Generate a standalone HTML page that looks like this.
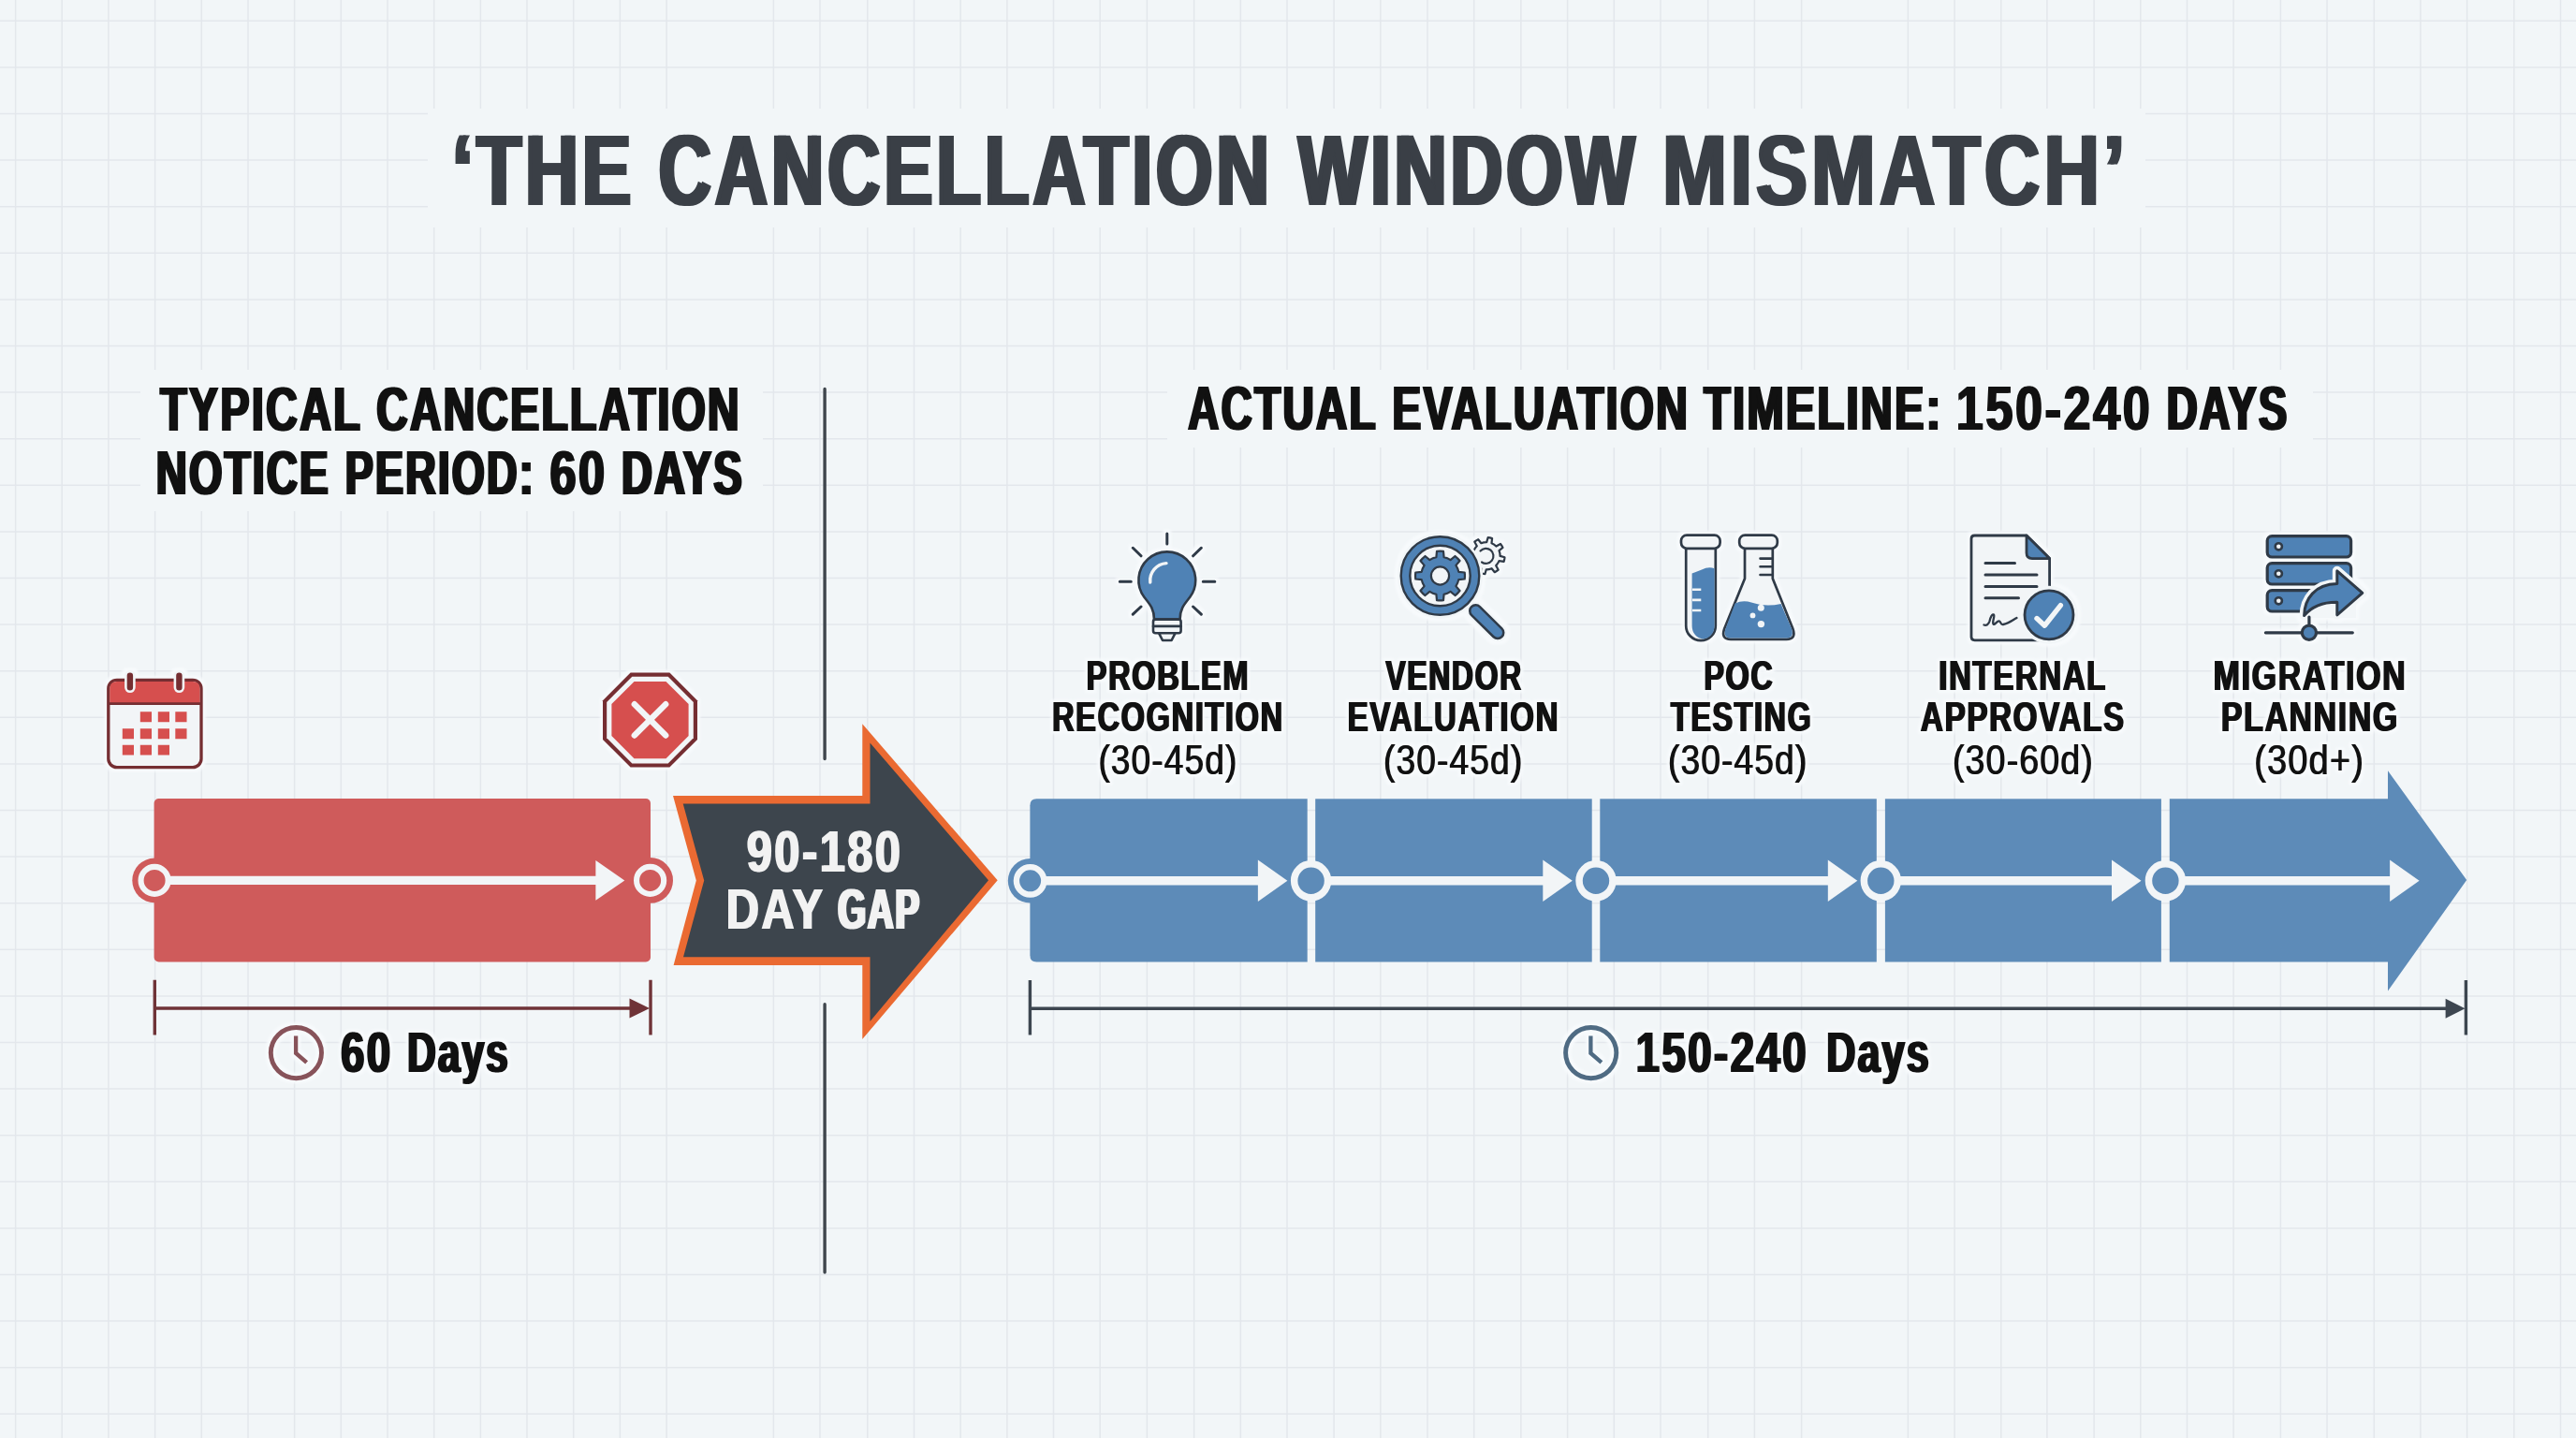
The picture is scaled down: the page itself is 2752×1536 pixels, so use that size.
<!DOCTYPE html>
<html><head><meta charset="utf-8"><title>The Cancellation Window Mismatch</title>
<style>html,body{margin:0;padding:0;background:#f2f6f8;overflow:hidden}svg{display:block}text{font-family:"Liberation Sans",sans-serif;white-space:pre}</style></head><body>
<svg width="2752" height="1536" viewBox="0 0 2752 1536">
<defs><filter id="halo" x="-5%" y="-5%" width="110%" height="110%" color-interpolation-filters="sRGB"><feMorphology in="SourceAlpha" operator="dilate" radius="2.6" result="d"/><feGaussianBlur in="d" stdDeviation="1.6" result="b"/><feFlood flood-color="#f7fafc"/><feComposite in2="b" operator="in" result="h"/><feMerge><feMergeNode in="h"/><feMergeNode in="SourceGraphic"/></feMerge></filter></defs>
<rect width="2752" height="1536" fill="#f2f6f8"/>
<path d="M16.6 0V1536M66.2 0V1536M115.9 0V1536M165.6 0V1536M215.3 0V1536M265.0 0V1536M314.6 0V1536M364.3 0V1536M414.0 0V1536M463.7 0V1536M513.4 0V1536M563.0 0V1536M612.7 0V1536M662.4 0V1536M712.1 0V1536M826.4 0V1536M876.0 0V1536M926.8 0V1536M976.5 0V1536M1026.2 0V1536M1075.9 0V1536M1125.5 0V1536M1175.2 0V1536M1225.4 0V1536M1275.6 0V1536M1325.3 0V1536M1375.0 0V1536M1425.1 0V1536M1474.8 0V1536M1525.0 0V1536M1574.7 0V1536M1624.9 0V1536M1674.6 0V1536M1724.3 0V1536M1774.0 0V1536M1824.7 0V1536M1874.4 0V1536M1924.6 0V1536M2038.4 0V1536M2088.1 0V1536M2137.8 0V1536M2186.9 0V1536M2237.1 0V1536M2286.8 0V1536M2336.5 0V1536M2386.1 0V1536M2436.4 0V1536M2486.0 0V1536M2536.3 0V1536M2585.9 0V1536M2635.6 0V1536M2685.8 0V1536M2735.5 0V1536M0 22.3H2752M0 71.9H2752M0 121.5H2752M0 171.1H2752M0 220.7H2752M0 270.3H2752M0 319.9H2752M0 369.5H2752M0 419.1H2752M0 468.7H2752M0 518.3H2752M0 567.9H2752M0 617.5H2752M0 667.1H2752M0 716.7H2752M0 766.3H2752M0 815.9H2752M0 865.5H2752M0 915.1H2752M0 964.7H2752M0 1014.3H2752M0 1063.9H2752M0 1113.5H2752M0 1163.1H2752M0 1212.7H2752M0 1262.3H2752M0 1311.9H2752M0 1361.5H2752M0 1411.1H2752M0 1460.7H2752M0 1510.3H2752" stroke="#e3e7ec" stroke-width="1.5" fill="none"/>
<rect x="457" y="116" width="1835" height="127" fill="#f2f6f8"/>
<rect x="150" y="395" width="665" height="151" fill="#f2f6f8"/>
<rect x="1247" y="395" width="1224" height="83" fill="#f2f6f8"/>
<path d="M881.1 415.4V810.5M881.1 1072.8V1359" stroke="#3f464d" stroke-width="3.4" stroke-linecap="round" fill="none"/>
<circle cx="165.1" cy="940.4" r="23.8" fill="#cf5b5b"/><circle cx="694.6" cy="940.4" r="24.4" fill="#cf5b5b"/>
<rect x="164.6" y="853" width="530.4" height="174.4" rx="5" fill="#cf5b5b"/>
<path d="M165.1 940.4H640" stroke="#f2f5f7" stroke-width="9.4" fill="none"/>
<path d="M636.4 919.0L667.3 940.4L636.4 961.8Z" fill="#f2f5f7"/>
<circle cx="165.1" cy="940.4" r="14.55" fill="#cf5b5b" stroke="#f2f5f7" stroke-width="6.1"/>
<circle cx="694.6" cy="940.4" r="14.55" fill="#cf5b5b" stroke="#f2f5f7" stroke-width="6.1"/>
<path d="M165.3 1046.8V1105.6M695 1046.8V1105.6M165.3 1077H676" stroke="#6f3337" stroke-width="3.4" fill="none"/>
<path d="M672.5 1066.5L694 1077L672.5 1087.5Z" fill="#6f3337"/>
<polygon points="719,849.9 921.3,849.9 921.3,773.3 1065.7,940.3 921.3,1110 921.3,1031 719.6,1031 743.8,940.4" fill="#ea6a32"/>
<polygon points="729.7,858.6 929.5,858.6 929.5,793.6 1056,940.3 929.5,1091 929.5,1022.2 730,1022.2 752.2,940.4" fill="#3d454d"/>
<circle cx="1100.6" cy="940.8" r="23.8" fill="#5d8bb8"/>
<path d="M1107.4 853.3H1396.7V1027.5H1107.4Q1100.4 1027.5 1100.4 1020.5V860.3Q1100.4 853.3 1107.4 853.3Z" fill="#5d8bb8"/>
<rect x="1405.2" y="853.3" width="295.5" height="174.2" fill="#5d8bb8"/>
<rect x="1709.3" y="853.3" width="295.5" height="174.2" fill="#5d8bb8"/>
<rect x="2013.9" y="853.3" width="295.0" height="174.2" fill="#5d8bb8"/>
<path d="M2317.8 853.3H2551V823.3L2635.2 940L2551 1058.5V1027.5H2317.8Z" fill="#5d8bb8"/>
<path d="M1100.6 940.8H1348.4" stroke="#f2f5f7" stroke-width="9.6" fill="none"/>
<path d="M1343.9 918.5999999999999L1375.4 940.8L1343.9 963.0Z" fill="#f2f5f7"/>
<path d="M1400.6 940.8H1652.8" stroke="#f2f5f7" stroke-width="9.6" fill="none"/>
<path d="M1648.3 918.5999999999999L1679.8 940.8L1648.3 963.0Z" fill="#f2f5f7"/>
<path d="M1705 940.8H1957.3" stroke="#f2f5f7" stroke-width="9.6" fill="none"/>
<path d="M1952.8 918.5999999999999L1984.3 940.8L1952.8 963.0Z" fill="#f2f5f7"/>
<path d="M2009.3 940.8H2260.5" stroke="#f2f5f7" stroke-width="9.6" fill="none"/>
<path d="M2256.0 918.5999999999999L2287.5 940.8L2256.0 963.0Z" fill="#f2f5f7"/>
<path d="M2313.4 940.8H2557.6" stroke="#f2f5f7" stroke-width="9.6" fill="none"/>
<path d="M2553.1 918.5999999999999L2584.6 940.8L2553.1 963.0Z" fill="#f2f5f7"/>
<circle cx="1100.6" cy="940.8" r="14.7" fill="#5d8bb8" stroke="#f2f5f7" stroke-width="6.4"/>
<circle cx="1400.6" cy="940.8" r="17.95" fill="#5d8bb8" stroke="#f2f5f7" stroke-width="7.5"/>
<circle cx="1705" cy="940.8" r="17.95" fill="#5d8bb8" stroke="#f2f5f7" stroke-width="7.5"/>
<circle cx="2009.3" cy="940.8" r="17.95" fill="#5d8bb8" stroke="#f2f5f7" stroke-width="7.5"/>
<circle cx="2313.4" cy="940.8" r="17.95" fill="#5d8bb8" stroke="#f2f5f7" stroke-width="7.5"/>
<path d="M1100.4 1047V1105.4M2634.4 1047V1105.4M1100.4 1077.2H2616" stroke="#3d4650" stroke-width="3.4" fill="none"/>
<path d="M2612.6 1066.7L2633.5 1077.2L2612.6 1087.7Z" fill="#3d4650"/>
<g filter="url(#halo)">
<g fill="none" stroke="#87535a" stroke-width="4.9" stroke-linejoin="miter"><circle cx="316.4" cy="1124.6" r="27.1"/><path d="M316.09999999999997 1106.6V1124.8999999999999L327.59999999999997 1134.8999999999999" stroke-width="4.3"/></g>
<g fill="none" stroke="#4f6b83" stroke-width="4.9" stroke-linejoin="miter"><circle cx="1699.7" cy="1124.6" r="27.1"/><path d="M1699.4 1106.6V1124.8999999999999L1710.9 1134.8999999999999" stroke-width="4.3"/></g>
<g>
<rect x="115.8" y="726.4" width="99.2" height="93.2" rx="9" fill="#f2f5f7" stroke="#752e32" stroke-width="3.3"/>
<path d="M117.3 751.6V735.4Q117.3 727.9 124.8 727.9H206Q213.5 727.9 213.5 735.4V751.6Z" fill="#d64f4e"/>
<path d="M116 751.6H215" stroke="#752e32" stroke-width="2.6"/>
<rect x="134.4" y="717.2" width="9" height="21.6" rx="4.5" fill="#752e32" stroke="#f2f5f7" stroke-width="2.6"/>
<rect x="186.9" y="717.2" width="9" height="21.6" rx="4.5" fill="#752e32" stroke="#f2f5f7" stroke-width="2.6"/>
<path d="M149.8 760.3h12.2v10.9h-12.2zM168.8 760.3h12.2v10.9h-12.2zM187.3 760.3h12.2v10.9h-12.2zM130.8 778.3h12.2v10.9h-12.2zM149.8 778.3h12.2v10.9h-12.2zM168.8 778.3h12.2v10.9h-12.2zM187.3 778.3h12.2v10.9h-12.2zM130.8 795.7h12.2v10.9h-12.2zM149.8 795.7h12.2v10.9h-12.2zM168.8 795.7h12.2v10.9h-12.2z" fill="#d64f4e"/>
</g>
<polygon points="673.6,718.6 715.4,718.6 745.0,748.2 745.0,790.0 715.4,819.6 673.6,819.6 644.0,790.0 644.0,748.2" fill="#752e32"/>
<polygon points="675.3,722.8 713.7,722.8 740.8,749.9 740.8,788.3 713.7,815.4 675.3,815.4 648.2,788.3 648.2,749.9" fill="#f2f5f7"/>
<polygon points="677.5,728.0 711.5,728.0 735.6,752.1 735.6,786.1 711.5,810.2 677.5,810.2 653.4,786.1 653.4,752.1" fill="#d64f4e"/>
<path d="M677.8 752.2L711.2 785.6M711.2 752.2L677.8 785.6" stroke="#f2f5f7" stroke-width="6.4" stroke-linecap="round"/>
<g stroke="#2f3a47" stroke-width="2.6" stroke-linecap="round" stroke-linejoin="round" fill="none">
<path d="M1246.8 570V581M1196.3 621.2H1208.3M1285.3 621.2H1297.8M1210.3 585.3L1219 593.8M1283.3 585.3L1274.6 593.8M1210.3 656.2L1219 648M1283.3 656.2L1274.6 648" stroke-width="3"/>
<path d="M1233 661.5C1233 650 1228 645 1222.5 638A30.4 30.4 0 1 1 1271.1 638C1265.6 645 1260.6 650 1260.6 661.5Z" fill="#4f82b5"/>
<path d="M1228.8 622A18.5 18.5 0 0 1 1246 601.6" stroke="#f2f5f7" stroke-width="3.4"/>
<rect x="1232" y="661.6" width="29.6" height="14.6" rx="2.5" fill="#f2f5f7"/>
<path d="M1232 668.9H1261.6" />
<path d="M1238 676.2L1242 684H1251.6L1255.6 676.2Z" fill="#f2f5f7"/>
</g>
<g stroke="#2f3a47" stroke-width="2.4" stroke-linejoin="round" stroke-linecap="round" fill="none">
<path d="M1602.6 593.9L1607.5 595.3A19.6 19.6 0 0 1 1606.6 599.8L1601.5 599.2A14.6 14.6 0 0 1 1598.2 604.1L1598.2 604.1L1600.7 608.7A19.6 19.6 0 0 1 1596.8 611.2L1593.6 607.2A14.6 14.6 0 0 1 1587.8 608.3L1587.8 608.3L1586.4 613.2A19.6 19.6 0 0 1 1581.9 612.3L1582.5 607.2A14.6 14.6 0 0 1 1577.6 603.9L1577.6 603.9L1573.0 606.4A19.6 19.6 0 0 1 1570.5 602.5L1574.5 599.3A14.6 14.6 0 0 1 1573.4 593.5L1573.4 593.5L1568.5 592.1A19.6 19.6 0 0 1 1569.4 587.6L1574.5 588.2A14.6 14.6 0 0 1 1577.8 583.3L1577.8 583.3L1575.3 578.7A19.6 19.6 0 0 1 1579.2 576.2L1582.4 580.2A14.6 14.6 0 0 1 1588.2 579.1L1588.2 579.1L1589.6 574.2A19.6 19.6 0 0 1 1594.1 575.1L1593.5 580.2A14.6 14.6 0 0 1 1598.4 583.5L1598.4 583.5L1603.0 581.0A19.6 19.6 0 0 1 1605.5 584.9L1601.5 588.1A14.6 14.6 0 0 1 1602.6 593.9Z" fill="#f2f5f7" stroke-width="2.2"/>
<path d="M1581.5 588.5A8 8 0 1 1 1583 600.5" stroke-width="2.2"/>
<circle cx="1538.5" cy="615" r="45.6" fill="#f2f6f8" stroke="none"/>
<path d="M1576.5 652.6L1600 675.8" stroke="#f2f6f8" stroke-width="19.5"/>
<path d="M1576.5 652.6L1600 675.8" stroke="#2f3a47" stroke-width="15"/>
<path d="M1576.5 652.6L1600 675.8" stroke="#4f82b5" stroke-width="10"/>
<circle cx="1538.5" cy="615" r="41.8" fill="#4f82b5"/>
<circle cx="1538.5" cy="615" r="32.2" fill="#f2f5f7"/>
<path d="M1558.3 610.9L1564.7 611.5A26.4 26.4 0 0 1 1564.7 618.5L1558.3 619.1A20.2 20.2 0 0 1 1555.4 626.1L1555.4 626.1L1559.5 631.0A26.4 26.4 0 0 1 1554.5 636.0L1549.6 631.9A20.2 20.2 0 0 1 1542.6 634.8L1542.6 634.8L1542.0 641.2A26.4 26.4 0 0 1 1535.0 641.2L1534.4 634.8A20.2 20.2 0 0 1 1527.4 631.9L1527.4 631.9L1522.5 636.0A26.4 26.4 0 0 1 1517.5 631.0L1521.6 626.1A20.2 20.2 0 0 1 1518.7 619.1L1518.7 619.1L1512.3 618.5A26.4 26.4 0 0 1 1512.3 611.5L1518.7 610.9A20.2 20.2 0 0 1 1521.6 603.9L1521.6 603.9L1517.5 599.0A26.4 26.4 0 0 1 1522.5 594.0L1527.4 598.1A20.2 20.2 0 0 1 1534.4 595.2L1534.4 595.2L1535.0 588.8A26.4 26.4 0 0 1 1542.0 588.8L1542.6 595.2A20.2 20.2 0 0 1 1549.6 598.1L1549.6 598.1L1554.5 594.0A26.4 26.4 0 0 1 1559.5 599.0L1555.4 603.9A20.2 20.2 0 0 1 1558.3 610.9Z" fill="#4f82b5" stroke-width="2.2"/>
<circle cx="1538.5" cy="615" r="9.6" fill="#f2f5f7" stroke-width="2.2"/>
</g>
<g stroke="#2f3a47" stroke-width="2.7" stroke-linejoin="round" stroke-linecap="round" fill="none">
<path d="M1801.2 584V668.4A15.8 15.8 0 0 0 1832.8 668.4V584Z" fill="#f2f5f7"/>
<path d="M1807.6 612.5Q1813 610.5 1818 608.5Q1825 605 1831.6 607.2V668.4A12 14 0 0 1 1807.6 668.4Z" fill="#4f82b5" stroke="none"/>
<path d="M1808 629.8H1817.3M1808 640.9H1817.3M1808 652H1817.3" stroke="#f2f5f7" stroke-width="2.6" stroke-linecap="butt"/>
<rect x="1796" y="571.6" width="41.6" height="14.2" rx="6" fill="#f2f5f7"/>
<path d="M1864 584V618L1842.2 671.5Q1838.2 682.8 1849 682.8H1908.5Q1919.3 682.8 1915.3 671.5L1893.8 618V584Z" fill="#f2f5f7"/>
<path d="M1853.6 644.5Q1862 640.5 1871 643.5Q1886 648.8 1902.6 645L1914.2 672Q1917 681.6 1908 681.6H1849.5Q1840.5 681.6 1843.3 672Z" fill="#4f82b5" stroke="none"/>
<g fill="#f2f5f7" stroke="none"><circle cx="1881.3" cy="649.2" r="3.5"/><circle cx="1872.5" cy="657.4" r="2.9"/><circle cx="1881.4" cy="666.6" r="3.7"/></g>
<path d="M1880.5 596.6H1892.5M1880.5 605.3H1892.5M1880.5 614H1892.5" stroke-width="2.6"/>
<rect x="1858.2" y="571.6" width="40.6" height="14.2" rx="6" fill="#f2f5f7"/>
</g>
<g stroke="#2f3a47" stroke-width="2.8" stroke-linejoin="round" stroke-linecap="round" fill="none">
<path d="M2106 575.5Q2106 572 2109.5 572H2165L2189.6 596.6V680.3Q2189.6 683.8 2186 683.8H2109.5Q2106 683.8 2106 680.3Z" fill="#f2f5f7"/>
<path d="M2165 572V590.6Q2165 596.6 2171 596.6H2189.6Z" fill="#4f82b5"/>
<path d="M2121 601.5H2152.5M2121 614H2176M2121 626.4H2176M2121 638.8H2156.5" stroke-width="3"/>
<path d="M2119.5 667.5C2122 668.5 2124.5 667 2125.5 663.5C2126.5 659 2128.5 655.5 2130 656.5C2131.5 658 2128 664 2129.5 666.5C2131 668.5 2133.5 662.5 2136 663.5C2138 664.5 2137 667.5 2140 667C2146 666 2150 662.5 2154.5 660" stroke-width="2.3"/>
<circle cx="2189" cy="656.8" r="31" fill="#f2f6f8" stroke="none"/>
<circle cx="2189" cy="656.8" r="26" fill="#4f82b5"/>
<path d="M2176 660.5L2184.3 668.2L2201.4 646.6" stroke="#f2f5f7" stroke-width="5.4"/>
</g>
<g stroke="#2f3a47" stroke-width="3.2" stroke-linejoin="round" stroke-linecap="round" fill="none">
<rect x="2422.2" y="572.6" width="89.4" height="22.4" rx="5" fill="#4f82b5"/>
<circle cx="2434.3" cy="583.8000000000001" r="3.6" fill="#f2f5f7" stroke-width="2.6"/>
<rect x="2422.2" y="601.6" width="89.4" height="22.4" rx="5" fill="#4f82b5"/>
<circle cx="2434.3" cy="612.8000000000001" r="3.6" fill="#f2f5f7" stroke-width="2.6"/>
<rect x="2422.2" y="630.6" width="89.4" height="22.4" rx="5" fill="#4f82b5"/>
<circle cx="2434.3" cy="641.8000000000001" r="3.6" fill="#f2f5f7" stroke-width="2.6"/>
<path d="M2461 660L2463 648L2478 640H2517V660Z" fill="#f2f6f8" stroke="none"/>
<path d="M2461.6 657.5C2461.8 640 2473 624 2496.8 623.6V609.8L2523.8 633.3L2496.8 656.8V643.2C2481 643 2469.5 648 2461.6 657.5Z" stroke="#f2f6f8" stroke-width="10" fill="#f2f6f8"/>
<path d="M2461.6 657.5C2461.8 640 2473 624 2496.8 623.6V609.8L2523.8 633.3L2496.8 656.8V643.2C2481 643 2469.5 648 2461.6 657.5Z" fill="#4f82b5" stroke-width="3"/>
<path d="M2466.9 659V668M2420.4 675.8H2513.3"/>
<circle cx="2466.9" cy="675.8" r="7.6" fill="#4f82b5"/>
</g>
</g>
<g fill="#3a3f46" font-weight="bold" font-size="107.39" letter-spacing="0.05em">
<text transform="translate(481.30 218.90) scale(0.7321 1)">‘THE</text>
<text transform="translate(485.50 218.90) scale(0.7321 1)">‘THE</text>
</g>
<g fill="#3a3f46" font-weight="bold" font-size="107.39" letter-spacing="0.05em">
<text transform="translate(701.38 218.90) scale(0.7263 1)">CANCELLATION</text>
<text transform="translate(705.67 218.90) scale(0.7263 1)">CANCELLATION</text>
</g>
<g fill="#3a3f46" font-weight="bold" font-size="107.39" letter-spacing="0.05em">
<text transform="translate(1384.80 218.90) scale(0.7223 1)">WINDOW</text>
<text transform="translate(1389.15 218.90) scale(0.7223 1)">WINDOW</text>
</g>
<g fill="#3a3f46" font-weight="bold" font-size="107.39" letter-spacing="0.05em">
<text transform="translate(1774.24 218.90) scale(0.7678 1)">MISMATCH’</text>
<text transform="translate(1777.93 218.90) scale(0.7678 1)">MISMATCH’</text>
</g>
<g fill="#111" font-weight="bold" font-size="66.38" letter-spacing="0.05em">
<text transform="translate(169.63 459.60) scale(0.7036 1)">TYPICAL</text>
<text transform="translate(172.49 459.60) scale(0.7036 1)">TYPICAL</text>
</g>
<g fill="#111" font-weight="bold" font-size="66.38" letter-spacing="0.05em">
<text transform="translate(400.85 459.60) scale(0.6973 1)">CANCELLATION</text>
<text transform="translate(403.76 459.60) scale(0.6973 1)">CANCELLATION</text>
</g>
<g fill="#111" font-weight="bold" font-size="66.81" letter-spacing="0.05em">
<text transform="translate(165.13 528.20) scale(0.6835 1)">NOTICE</text>
<text transform="translate(168.19 528.20) scale(0.6835 1)">NOTICE</text>
</g>
<g fill="#111" font-weight="bold" font-size="66.81" letter-spacing="0.05em">
<text transform="translate(367.17 528.20) scale(0.6736 1)">PERIOD:</text>
<text transform="translate(370.32 528.20) scale(0.6736 1)">PERIOD:</text>
</g>
<g fill="#111" font-weight="bold" font-size="66.81" letter-spacing="0.05em">
<text transform="translate(586.24 528.20) scale(0.7544 1)">60</text>
<text transform="translate(588.65 528.20) scale(0.7544 1)">60</text>
</g>
<g fill="#111" font-weight="bold" font-size="66.81" letter-spacing="0.05em">
<text transform="translate(662.56 528.20) scale(0.6780 1)">DAYS</text>
<text transform="translate(665.66 528.20) scale(0.6780 1)">DAYS</text>
</g>
<g fill="#111" font-weight="bold" font-size="66.23" letter-spacing="0.05em">
<text transform="translate(1267.65 459.40) scale(0.6943 1)">ACTUAL</text>
<text transform="translate(1270.58 459.40) scale(0.6943 1)">ACTUAL</text>
</g>
<g fill="#111" font-weight="bold" font-size="66.23" letter-spacing="0.05em">
<text transform="translate(1485.99 459.40) scale(0.7000 1)">EVALUATION</text>
<text transform="translate(1488.87 459.40) scale(0.7000 1)">EVALUATION</text>
</g>
<g fill="#111" font-weight="bold" font-size="66.23" letter-spacing="0.05em">
<text transform="translate(1818.73 459.40) scale(0.7080 1)">TIMELINE:</text>
<text transform="translate(1821.54 459.40) scale(0.7080 1)">TIMELINE:</text>
</g>
<g fill="#111" font-weight="bold" font-size="66.23" letter-spacing="0.05em">
<text transform="translate(2088.71 459.40) scale(0.7875 1)">150-240</text>
<text transform="translate(2090.81 459.40) scale(0.7875 1)">150-240</text>
</g>
<g fill="#111" font-weight="bold" font-size="66.23" letter-spacing="0.05em">
<text transform="translate(2313.36 459.40) scale(0.6833 1)">DAYS</text>
<text transform="translate(2316.39 459.40) scale(0.6833 1)">DAYS</text>
</g>
<g fill="#f2f2f2" font-weight="bold" font-size="62.17" letter-spacing="0.05em">
<text transform="translate(796.79 930.90) scale(0.7852 1)">90-180</text>
<text transform="translate(798.78 930.90) scale(0.7852 1)">90-180</text>
</g>
<g fill="#f2f2f2" font-weight="bold" font-size="61.59" letter-spacing="0.05em">
<text transform="translate(774.83 991.90) scale(0.7913 1)">DAY</text>
<text transform="translate(776.75 991.90) scale(0.7913 1)">DAY</text>
</g>
<g fill="#f2f2f2" font-weight="bold" font-size="61.59" letter-spacing="0.05em">
<text transform="translate(893.57 991.90) scale(0.6218 1)">GAP</text>
<text transform="translate(896.90 991.90) scale(0.6218 1)">GAP</text>
</g>
<g filter="url(#halo)">
<g fill="#111" font-weight="bold" font-size="61.01" letter-spacing="0.05em">
<text transform="translate(363.01 1145.10) scale(0.7467 1)">60</text>
<text transform="translate(365.28 1145.10) scale(0.7467 1)">60</text>
</g>
<g fill="#111" font-weight="bold" font-size="61.01" letter-spacing="0.05em">
<text transform="translate(433.85 1145.10) scale(0.6939 1)">Days</text>
<text transform="translate(436.55 1145.10) scale(0.6939 1)">Days</text>
</g>
<g fill="#111" font-weight="bold" font-size="60.72" letter-spacing="0.05em">
<text transform="translate(1746.42 1144.90) scale(0.7559 1)">150-240</text>
<text transform="translate(1748.60 1144.90) scale(0.7559 1)">150-240</text>
</g>
<g fill="#111" font-weight="bold" font-size="60.72" letter-spacing="0.05em">
<text transform="translate(1949.90 1144.90) scale(0.7104 1)">Days</text>
<text transform="translate(1952.45 1144.90) scale(0.7104 1)">Days</text>
</g>
<g fill="#111" font-weight="bold" font-size="45.07" letter-spacing="0.05em">
<text transform="translate(1159.78 736.60) scale(0.7235 1)">PROBLEM</text>
<text transform="translate(1161.60 736.60) scale(0.7235 1)">PROBLEM</text>
</g>
<g fill="#111" font-weight="bold" font-size="44.78" letter-spacing="0.05em">
<text transform="translate(1123.18 780.80) scale(0.7276 1)">RECOGNITION</text>
<text transform="translate(1124.96 780.80) scale(0.7276 1)">RECOGNITION</text>
</g>
<g fill="#111" font-weight="normal" font-size="44.49" letter-spacing="0.03em">
<text transform="translate(1172.88 827.30) scale(0.8331 1)">(30-45d)</text>
<text transform="translate(1173.91 827.30) scale(0.8331 1)">(30-45d)</text>
</g>
<g fill="#111" font-weight="bold" font-size="45.07" letter-spacing="0.05em">
<text transform="translate(1479.38 736.60) scale(0.7098 1)">VENDOR</text>
<text transform="translate(1481.28 736.60) scale(0.7098 1)">VENDOR</text>
</g>
<g fill="#111" font-weight="bold" font-size="44.78" letter-spacing="0.05em">
<text transform="translate(1438.85 780.80) scale(0.7381 1)">EVALUATION</text>
<text transform="translate(1440.57 780.80) scale(0.7381 1)">EVALUATION</text>
</g>
<g fill="#111" font-weight="normal" font-size="44.49" letter-spacing="0.03em">
<text transform="translate(1477.47 827.30) scale(0.8355 1)">(30-45d)</text>
<text transform="translate(1478.50 827.30) scale(0.8355 1)">(30-45d)</text>
</g>
<g fill="#111" font-weight="bold" font-size="45.07" letter-spacing="0.05em">
<text transform="translate(1819.39 736.60) scale(0.7187 1)">POC</text>
<text transform="translate(1821.24 736.60) scale(0.7187 1)">POC</text>
</g>
<g fill="#111" font-weight="bold" font-size="44.78" letter-spacing="0.05em">
<text transform="translate(1784.08 780.80) scale(0.7217 1)">TESTING</text>
<text transform="translate(1785.89 780.80) scale(0.7217 1)">TESTING</text>
</g>
<g fill="#111" font-weight="normal" font-size="44.49" letter-spacing="0.03em">
<text transform="translate(1781.47 827.30) scale(0.8355 1)">(30-45d)</text>
<text transform="translate(1782.50 827.30) scale(0.8355 1)">(30-45d)</text>
</g>
<g fill="#111" font-weight="bold" font-size="45.07" letter-spacing="0.05em">
<text transform="translate(2070.36 736.60) scale(0.7313 1)">INTERNAL</text>
<text transform="translate(2072.13 736.60) scale(0.7313 1)">INTERNAL</text>
</g>
<g fill="#111" font-weight="bold" font-size="44.78" letter-spacing="0.05em">
<text transform="translate(2051.07 780.80) scale(0.7410 1)">APPROVALS</text>
<text transform="translate(2052.77 780.80) scale(0.7410 1)">APPROVALS</text>
</g>
<g fill="#111" font-weight="normal" font-size="44.49" letter-spacing="0.03em">
<text transform="translate(2085.44 827.30) scale(0.8450 1)">(30-60d)</text>
<text transform="translate(2086.43 827.30) scale(0.8450 1)">(30-60d)</text>
</g>
<g fill="#111" font-weight="bold" font-size="45.07" letter-spacing="0.05em">
<text transform="translate(2363.80 736.60) scale(0.7523 1)">MIGRATION</text>
<text transform="translate(2365.44 736.60) scale(0.7523 1)">MIGRATION</text>
</g>
<g fill="#111" font-weight="bold" font-size="44.78" letter-spacing="0.05em">
<text transform="translate(2372.10 780.80) scale(0.7549 1)">PLANNING</text>
<text transform="translate(2373.72 780.80) scale(0.7549 1)">PLANNING</text>
</g>
<g fill="#111" font-weight="normal" font-size="44.49" letter-spacing="0.03em">
<text transform="translate(2407.72 827.30) scale(0.8551 1)">(30d+)</text>
<text transform="translate(2408.67 827.30) scale(0.8551 1)">(30d+)</text>
</g>
</g>
</svg></body></html>
